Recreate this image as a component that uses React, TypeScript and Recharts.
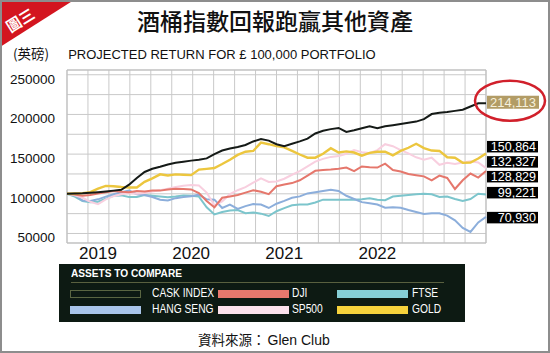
import React from 'react';
import {
  LineChart,
  Line,
  XAxis,
  YAxis,
  CartesianGrid,
  LabelList,
  ReferenceArea } from
'recharts';

// monthly points, Sep 2018 .. Mar 2023
const months = [
'2018-09', '2018-10', '2018-11', '2018-12',
'2019-01', '2019-02', '2019-03', '2019-04', '2019-05', '2019-06', '2019-07', '2019-08', '2019-09', '2019-10', '2019-11', '2019-12',
'2020-01', '2020-02', '2020-03', '2020-04', '2020-05', '2020-06', '2020-07', '2020-08', '2020-09', '2020-10', '2020-11', '2020-12',
'2021-01', '2021-02', '2021-03', '2021-04', '2021-05', '2021-06', '2021-07', '2021-08', '2021-09', '2021-10', '2021-11', '2021-12',
'2022-01', '2022-02', '2022-03', '2022-04', '2022-05', '2022-06', '2022-07', '2022-08', '2022-09', '2022-10', '2022-11', '2022-12',
'2023-01', '2023-02', '2023-03'];

const yearTicks = ['2019', '2020', '2021', '2022'];
const yLabels = [50000, 100000, 150000, 200000, 250000];
const yGrid = [50000, 75000, 100000, 125000, 150000, 175000, 200000, 225000, 250000];

const cask = [
100000, 100300, 100600, 101200, 102000, 103000, 104000, 105000, 111500, 120000,
127500, 131500, 134000, 137000, 139000, 140500, 141800, 142800, 144600, 150000,
154500, 157000, 159000, 161500, 166000, 169000, 167000, 162500, 160100, 163000,
166000, 169500, 176000, 179500, 181500, 183000, 178000, 180000, 182500, 185000,
182500, 185000, 186500, 188000, 189500, 191000, 194000, 200500, 202000, 203000,
204500, 206000, 210000, 214113, 214113];

const gold = [
100000, 100300, 100800, 102000, 106500, 110000, 109500, 108500, 108000, 108000,
115000, 119500, 124500, 123000, 124500, 124000, 123500, 130500, 131400, 132500,
137500, 143000, 149000, 153000, 154000, 164500, 162500, 160000, 158500, 154000,
149500, 145500, 145500, 150500, 157500, 152000, 153500, 152000, 148000, 151500,
153000, 153000, 148500, 154000, 158000, 163000, 157500, 154500, 154000, 146000,
145500, 139000, 139500, 144500, 150864];

const sp500 = [
100000, 98000, 95000, 90000, 87000, 93000, 97000, 99500, 101000, 100000,
101000, 103000, 104500, 106500, 108500, 110000, 111000, 110500, 101500, 85500,
90500, 99500, 104500, 108500, 114000, 119500, 115000, 115500, 119000, 124000,
128500, 134500, 140500, 144000, 146500, 147500, 150500, 155000, 152500, 151500,
155000, 162500, 160000, 155000, 151000, 146000, 143000, 145500, 136500, 139000,
137500, 139500, 141000, 139500, 132327];

const dji = [
100000, 99000, 97500, 98500, 100500, 102000, 103500, 102500, 102000, 103500,
103000, 104000, 104000, 105500, 106500, 106000, 105500, 100900, 91000, 83000,
95000, 96500, 98500, 101500, 104500, 102500, 99500, 109500, 111800, 113500,
117000, 123000, 129000, 130000, 130500, 131500, 133000, 128500, 134500, 133500,
133000, 138000, 130000, 128000, 125000, 123500, 122000, 117000, 123000, 120000,
106000, 117000, 125500, 120500, 128829];

const ftse = [
100000, 96500, 91000, 89500, 90000, 94000, 97500, 98000, 96000, 96000,
98500, 97500, 96500, 95500, 96500, 98000, 97500, 96500, 83000, 74000,
77000, 79000, 79500, 75500, 76500, 75000, 72000, 78000, 82000, 85500,
86400, 86400, 89000, 92600, 92600, 92600, 92600, 92600, 93000, 94500,
92500, 92000, 96500, 97500, 98500, 99500, 100100, 99500, 96000, 96500,
93500, 91000, 93500, 100100, 99221];

const hangSeng = [
100000, 99000, 91500, 91000, 93000, 96500, 99500, 102000, 104000, 99500,
98500, 96000, 92500, 91500, 94500, 96000, 97000, 98900, 93000, 92600,
82100, 86400, 81000, 84500, 87000, 86500, 82100, 87500, 91000, 95000,
96750, 100500, 102000, 103500, 105000, 103500, 97500, 93500, 89500, 88000,
86500, 82500, 83000, 82500, 79500, 77000, 74500, 75500, 75500, 72500,
66500, 57000, 52000, 64000, 70930];

const data = months.map((m, i) => ({
  i,
  month: m,
  cask: cask[i],
  gold: gold[i],
  sp500: sp500[i],
  dji: dji[i],
  ftse: ftse[i],
  hangSeng: hangSeng[i]
}));

const series = [
{ key: 'ftse', name: 'FTSE', color: '#7cc5cc', swatch: '#86cfd6', labelDy: -2 },
{ key: 'hangSeng', name: 'HANG SENG', color: '#8caedb', swatch: '#a9c5ea', labelDy: 0.5 },
{ key: 'sp500', name: 'SP500', color: '#f8cfdf', swatch: '#fbe1eb', labelDy: -6.5 },
{ key: 'dji', name: 'DJI', color: '#e5776c', swatch: '#e8786d', labelDy: 5.5 },
{ key: 'gold', name: 'GOLD', color: '#ecc63e', swatch: '#f6d23c', labelDy: -7 },
{ key: 'cask', name: 'CASK INDEX', color: '#151a17', swatch: '#0d1a13', labelDy: -1, highlight: true }];


const legendRows = [
['cask', 'dji', 'ftse'],
['hangSeng', 'sp500', 'gold']];

// legend column layout inside the dark box
const legendSwatchX = [11, 159, 278];
const legendTextX = [93, 233, 353];

const yDomain = [38000, 256000];
const font = '"Liberation Sans", Arial, sans-serif';
const cjk = '"Noto Sans CJK TC", "Noto Sans CJK SC", sans-serif';

function endLabel(cfg: any) {
  return (props: any) => {
    const { index, value } = props;
    if (index !== months.length - 1) return null;
    const vb = props.viewBox || {};
    const px = props.x ?? vb.x;
    const py = (props.y ?? vb.y) + cfg.labelDy;
    const text = Number(value).toLocaleString('en-US');
    if (cfg.highlight) {
      return (
        <g>
          <rect x={px + 1} y={py - 6.5} width={52} height={13} fill="#b29c66" />
          <text x={px + 27} y={py + 4.5} textAnchor="middle" fontSize={13} fill="#f6f0dc" fontFamily={font}>
            {text}
          </text>
          <ellipse cx={px + 24} cy={py - 1.5} rx={35} ry={20} fill="none" stroke="#d1202b" strokeWidth={2.5} />
        </g>);

    }
    return (
      <g>
        <rect x={px + 1} y={py - 5.5} width={51} height={11.5} fill="#000" />
        <text x={px + 50} y={py + 4.5} textAnchor="end" fontSize={12.5} fill="#fff" fontFamily={font}>
          {text}
        </text>
      </g>);

  };
}

export default function App() {
  const last = months.length - 1;
  const byKey: any = Object.fromEntries(series.map((s) => [s.key, s]));
  return (
    <div
      style={{
        position: 'absolute',
        left: 0,
        top: 0,
        width: 550,
        height: 353,
        background: '#fff',
        border: '2px solid #8d8d8d',
        boxSizing: 'border-box',
        overflow: 'hidden',
        fontFamily: font
      }}>
      
      <div style={{ position: 'absolute', left: -2, top: -2 }}>
        <LineChart
          width={550}
          height={353}
          data={data}
          margin={{ top: 70, right: 64, left: 7, bottom: 80 }}>
          
          <CartesianGrid
            stroke="#c9c9c9"
            verticalCoordinatesGenerator={({ offset }: any) =>
            Array.from({ length: 21 }, (_, k) => offset.left + offset.width * k / 20)
            } />
          
          <ReferenceArea
            x1={0}
            x2={last}
            y1={yDomain[0]}
            y2={yDomain[1]}
            fill="none"
            stroke="#bdbdbd"
            ifOverflow="visible" />
          
          <XAxis
            dataKey="i"
            type="number"
            domain={[0, last]}
            ticks={yearTicks.map((y) => months.indexOf(`${y}-01`))}
            tickFormatter={(v) => months[v].slice(0, 4)}
            axisLine={false}
            tickLine={false}
            tickSize={0}
            tickMargin={4}
            height={30}
            tick={{ fontSize: 17, fill: '#111', fontFamily: font }} />
          
          <YAxis
            type="number"
            domain={yDomain}
            ticks={yGrid}
            tickFormatter={(v) => yLabels.includes(v) ? String(v) : ''}
            axisLine={false}
            tickLine={false}
            tickSize={0}
            tickMargin={12}
            width={60}
            tick={{ fontSize: 13.5, fill: '#111', fontFamily: font, dy: 4 }} />
          
          {series.map((s) =>
          <Line
            key={s.key}
            dataKey={s.key}
            type="linear"
            stroke={s.color}
            strokeWidth={s.key === 'gold' ? 2.4 : 2}
            dot={false}
            isAnimationActive={false}>
            
              <LabelList dataKey={s.key} content={endLabel(s)} />
            </Line>
          )}
        </LineChart>
      </div>

      {/* corner badge */}
      <svg width={80} height={50} style={{ position: 'absolute', left: -2, top: -2 }}>
        <polygon points="0,0 74,0 0,47" fill="#d3151f" />
        <text
          x={20}
          y={26}
          fill="#fff"
          fontSize={15}
          fontWeight="bold"
          fontFamily={cjk}
          textAnchor="middle"
          transform="rotate(-32 20 20)">
          圖三
        </text>
      </svg>

      <div
        style={{
          position: 'absolute',
          left: 0,
          top: 1,
          width: 546,
          textAlign: 'center',
          fontSize: 23,
          fontFamily: cjk,
          fontWeight: 500,
          color: '#111'
        }}>
        酒桶指數回報跑贏其他資產
      </div>

      <div style={{ position: 'absolute', left: 11, top: 41, fontSize: 13, color: '#111', whiteSpace: 'nowrap' }}>
        <span style={{ fontFamily: cjk, fontSize: 13.5 }}>(英磅)</span>
        <span style={{ marginLeft: 19 }}>PROJECTED RETURN FOR £ 100,000 PORTFOLIO</span>
      </div>

      {/* legend */}
      <div
        style={{
          position: 'absolute',
          left: 57,
          top: 262,
          width: 406,
          height: 58,
          background: '#0d1a13',
          color: '#fff'
        }}>
        
        <div
          style={{
            position: 'absolute',
            left: 12,
            top: 3,
            fontSize: 11.5,
            fontWeight: 'bold',
            transform: 'scaleX(0.88)',
            transformOrigin: 'left center',
            whiteSpace: 'nowrap'
          }}>
          ASSETS TO COMPARE
        </div>
        <div style={{ position: 'absolute', left: 12, top: 18, width: 373, height: 1, background: '#59603f' }} />
        {legendRows.map((row, r) =>
        row.map((key, c) => {
          const s = byKey[key];
          const top = 24 + r * 16;
          return (
            <React.Fragment key={key}>
                <div
                style={{
                  position: 'absolute',
                  left: legendSwatchX[c],
                  top: top + 2,
                  width: 71,
                  height: 8,
                  background: s.swatch,
                  border: s.highlight ? '1px solid #5a6642' : 'none',
                  boxSizing: 'border-box'
                }} />
              
                <div
                style={{
                  position: 'absolute',
                  left: legendTextX[c],
                  top: top - 2,
                  fontSize: 12.5,
                  transform: 'scaleX(0.82)',
                  transformOrigin: 'left center',
                  whiteSpace: 'nowrap'
                }}>
                
                  {s.name}
                </div>
              </React.Fragment>);

        })
        )}
      </div>

      <div
        style={{
          position: 'absolute',
          left: 196,
          top: 327,
          color: '#111',
          whiteSpace: 'nowrap'
        }}>
        <span style={{ fontFamily: cjk, fontSize: 13.5 }}>資料來源：</span>
        <span style={{ marginLeft: 2, fontSize: 14 }}>Glen Club</span>
      </div>
    </div>);

}
